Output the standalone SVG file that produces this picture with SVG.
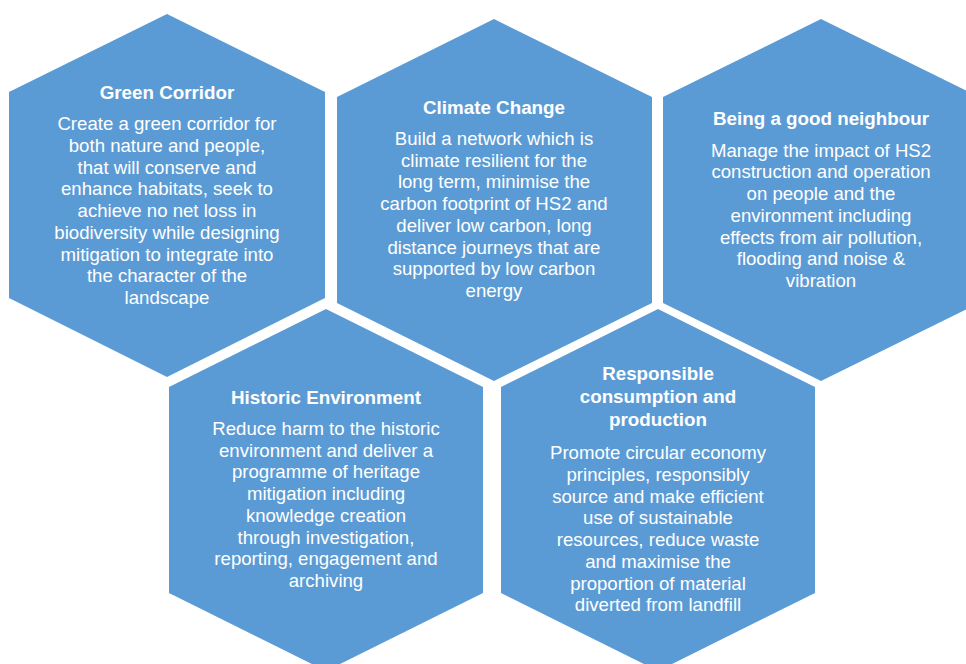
<svg xmlns="http://www.w3.org/2000/svg" width="966" height="664" viewBox="0 0 966 664">
<style>
.hex{fill:#5B9BD5;}
.t{font-family:"Liberation Sans",Arial,sans-serif;font-size:18.8px;font-weight:bold;fill:#fff;text-anchor:middle;}
.b{font-family:"Liberation Sans",Arial,sans-serif;font-size:18.6px;fill:#fff;text-anchor:middle;}
</style>
<rect width="966" height="664" fill="#fff"/>
<g id="connectors"/>
<g id="green-corridor">
<polygon class="hex" points="167,14 325,92 325,298 167,377 9,298 9,92"/>
<text class="t" x="167" y="99">Green Corridor</text>
<text class="b" x="167" y="130.3">Create a green corridor for</text>
<text class="b" x="167" y="152">both nature and people,</text>
<text class="b" x="167" y="173.7">that will conserve and</text>
<text class="b" x="167" y="195.4">enhance habitats, seek to</text>
<text class="b" x="167" y="217.1">achieve no net loss in</text>
<text class="b" x="167" y="238.8">biodiversity while designing</text>
<text class="b" x="167" y="260.5">mitigation to integrate into</text>
<text class="b" x="167" y="282.2">the character of the</text>
<text class="b" x="167" y="303.9">landscape</text>
</g>
<g id="climate-change">
<polygon class="hex" points="494,19 652,97 652,303 494,381 337,303 337,97"/>
<text class="t" x="494" y="114">Climate Change</text>
<text class="b" x="494" y="145">Build a network which is</text>
<text class="b" x="494" y="166.7">climate resilient for the</text>
<text class="b" x="494" y="188.4">long term, minimise the</text>
<text class="b" x="494" y="210.1">carbon footprint of HS2 and</text>
<text class="b" x="494" y="231.8">deliver low carbon, long</text>
<text class="b" x="494" y="253.5">distance journeys that are</text>
<text class="b" x="494" y="275.2">supported by low carbon</text>
<text class="b" x="494" y="296.9">energy</text>
</g>
<g id="good-neighbour">
<polygon class="hex" points="821,19 979,97 979,303 821,381 663,303 663,97"/>
<text class="t" x="821" y="125">Being a good neighbour</text>
<text class="b" x="821" y="156.7">Manage the impact of HS2</text>
<text class="b" x="821" y="178.4">construction and operation</text>
<text class="b" x="821" y="200.1">on people and the</text>
<text class="b" x="821" y="221.8">environment including</text>
<text class="b" x="821" y="243.5">effects from air pollution,</text>
<text class="b" x="821" y="265.2">flooding and noise &amp;</text>
<text class="b" x="821" y="286.9">vibration</text>
</g>
<g id="historic-environment">
<polygon class="hex" points="326,309 483,387 483,593 326,671 169,593 169,387"/>
<text class="t" x="326" y="404">Historic Environment</text>
<text class="b" x="326" y="435">Reduce harm to the historic</text>
<text class="b" x="326" y="456.7">environment and deliver a</text>
<text class="b" x="326" y="478.4">programme of heritage</text>
<text class="b" x="326" y="500.1">mitigation including</text>
<text class="b" x="326" y="521.8">knowledge creation</text>
<text class="b" x="326" y="543.5">through investigation,</text>
<text class="b" x="326" y="565.2">reporting, engagement and</text>
<text class="b" x="326" y="586.9">archiving</text>
</g>
<g id="responsible-consumption">
<polygon class="hex" points="658,309 815,387 815,593 658,671 501,593 501,387"/>
<text class="t" x="658" y="380">Responsible</text>
<text class="t" x="658" y="403">consumption and</text>
<text class="t" x="658" y="426">production</text>
<text class="b" x="658" y="459.3">Promote circular economy</text>
<text class="b" x="658" y="481">principles, responsibly</text>
<text class="b" x="658" y="502.7">source and make efficient</text>
<text class="b" x="658" y="524.4">use of sustainable</text>
<text class="b" x="658" y="546.1">resources, reduce waste</text>
<text class="b" x="658" y="567.8">and maximise the</text>
<text class="b" x="658" y="589.5">proportion of material</text>
<text class="b" x="658" y="611.2">diverted from landfill</text>
</g>
</svg>
